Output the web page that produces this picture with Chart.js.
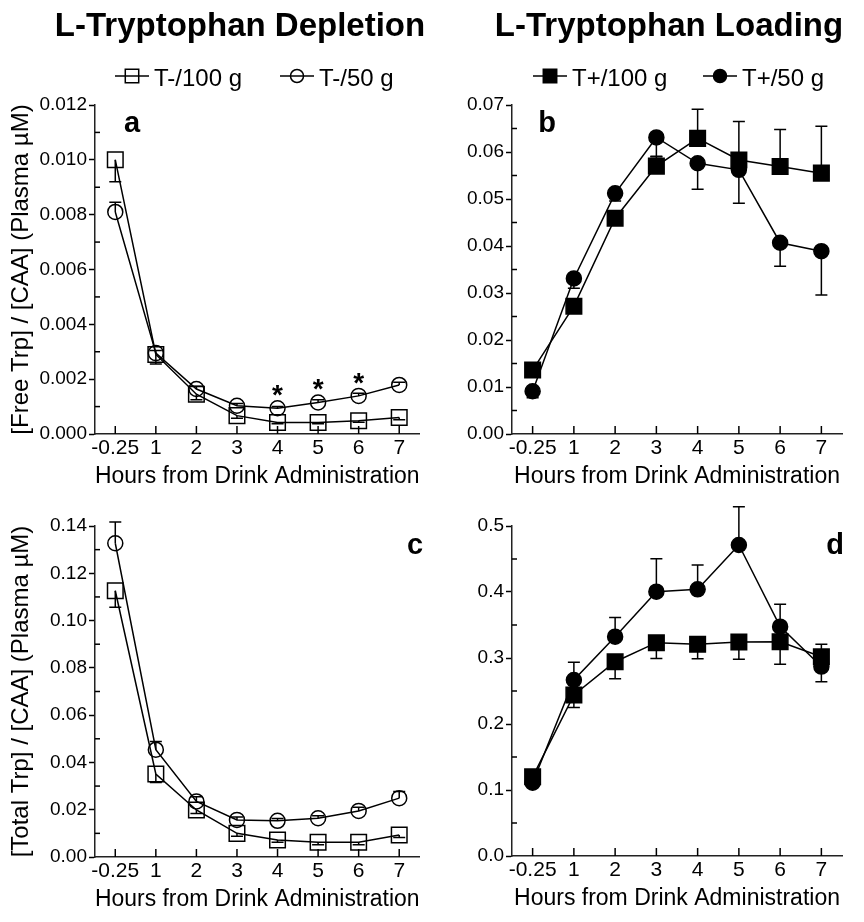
<!DOCTYPE html>
<html>
<head>
<meta charset="utf-8">
<script src="https://cdn.jsdelivr.net/npm/chart.js@4.4.0/dist/chart.umd.min.js"></script>
<style>
    body { margin: 0; background: #fff; }
    #tela { position: relative; width: 864px; height: 922px; }
    .painel { position: absolute; width: 432px; }
</style>
</head>
<body>
<div id="tela">
    <div class="painel" style="left:0;top:0;height:490px"><canvas id="graficoA"></canvas></div>
    <div class="painel" style="left:432px;top:0;height:490px"><canvas id="graficoB"></canvas></div>
    <div class="painel" style="left:0;top:490px;height:432px"><canvas id="graficoC"></canvas></div>
    <div class="painel" style="left:432px;top:490px;height:432px"><canvas id="graficoD"></canvas></div>
</div>
<script>
const categorias = ['-0.25', '1', '2', '3', '4', '5', '6', '7']

// a - Trp livre, deplecao
const livreDep100 = [0.0100, 0.0029, 0.00145, 0.00067, 0.00042, 0.00042, 0.00048, 0.0006]
const erroLivreDep100 = [0.0008, 0.00035, 0.0002, 0.0001, 0.00005, 0.00005, 0.00005, 0.00008]
const livreDep50 = [0.0081, 0.00295, 0.00164, 0.00103, 0.00094, 0.00115, 0.00139, 0.00179]
const erroLivreDep50 = [0.00035, 0.0001, 0.0001, 0.00008, 0.00006, 0.0001, 0.0001, 0.0001]
const asteriscosA = ['4', '5', '6']

// b - Trp livre, carga
const livreCarga100 = [0.0136, 0.0272, 0.0459, 0.0570, 0.0629, 0.0583, 0.0569, 0.0555]
const erroLivreCarga100 = [0.001, 0.001, 0.0015, 0.002, 0.0062, 0.0082, 0.0079, 0.0100]
const livreCarga50 = [0.0091, 0.0331, 0.0512, 0.0631, 0.0576, 0.0562, 0.0407, 0.0389]
const erroLivreCarga50 = [0.0014, 0.0021, 0.0016, 0.004, 0.0055, 0.0071, 0.005, 0.0093]

// c - Trp total, deplecao
const totalDep100 = [0.1126, 0.0351, 0.0199, 0.0100, 0.0072, 0.0062, 0.0062, 0.0093]
const erroTotalDep100 = [0.007, 0.0036, 0.0015, 0.0012, 0.001, 0.001, 0.001, 0.001]
const totalDep50 = [0.1327, 0.0454, 0.0235, 0.0157, 0.0153, 0.0164, 0.0195, 0.0249]
const erroTotalDep50 = [0.009, 0.0035, 0.002, 0.0012, 0.001, 0.001, 0.0015, 0.0028]

// d - Trp total, carga
const totalCarga100 = [0.120, 0.244, 0.2944, 0.3232, 0.3207, 0.3242, 0.3247, 0.302]
const erroTotalCarga100 = [0.004, 0.019, 0.026, 0.024, 0.022, 0.026, 0.034, 0.038]
const totalCarga50 = [0.111, 0.2667, 0.3323, 0.4005, 0.404, 0.4712, 0.3475, 0.287]
const erroTotalCarga50 = [0.003, 0.027, 0.029, 0.05, 0.037, 0.058, 0.034, 0.034]

const tituloEixoX = 'Hours from Drink Administration'
const fonte = "'Liberation Sans', Arial, sans-serif"

function desenharMarcador(ctx, estilo, x, y, r, cheio) {
    ctx.beginPath()
    if (estilo === 'rect') {
        const s = r * Math.SQRT1_2
        ctx.rect(x - s, y - s, 2 * s, 2 * s)
    } else {
        ctx.arc(x, y, r, 0, Math.PI * 2)
    }
    if (cheio) { ctx.fillStyle = '#000'; ctx.fill() }
    ctx.strokeStyle = '#000'
    ctx.lineWidth = 1.5
    ctx.stroke()
}

const pluginExtras = {
    id: 'extras',
    beforeDatasetsDraw(chart) {
        // barras de erro (só para um lado)
        const ctx = chart.ctx
        const eixoY = chart.scales.y
        chart.data.datasets.forEach((ds, i) => {
            const meta = chart.getDatasetMeta(i)
            ctx.save()
            ctx.strokeStyle = '#000'
            ctx.lineWidth = 1.5
            ds.data.forEach((v, j) => {
                const px = meta.data[j].x
                const y1 = eixoY.getPixelForValue(v)
                const y2 = eixoY.getPixelForValue(v + ds.sentidoErro * ds.erros[j])
                ctx.beginPath()
                ctx.moveTo(px, y1)
                ctx.lineTo(px, y2)
                ctx.moveTo(px - 6, y2)
                ctx.lineTo(px + 6, y2)
                ctx.stroke()
            })
            ctx.restore()
        })
    },
    afterDraw(chart) {
        const op = chart.options.plugins.extras
        const ctx = chart.ctx
        const area = chart.chartArea
        const eixoX = chart.scales.x
        const eixoY = chart.scales.y
        ctx.save()
        ctx.strokeStyle = '#000'
        ctx.lineWidth = 1.5

        // ticks do eixo x para dentro
        categorias.forEach((c, j) => {
            const px = eixoX.getPixelForValue(j)
            ctx.beginPath()
            ctx.moveTo(px, area.bottom)
            ctx.lineTo(px, area.bottom - 8)
            ctx.stroke()
        })

        // ticks menores do eixo y para dentro
        const n = Math.round(eixoY.max / op.passoMenor)
        for (let k = 1; k < n; k += 2) {
            const py = eixoY.getPixelForValue(k * op.passoMenor)
            ctx.beginPath()
            ctx.moveTo(area.left, py)
            ctx.lineTo(area.left + 5, py)
            ctx.stroke()
        }

        // letra do painel
        ctx.fillStyle = '#000'
        ctx.font = 'bold 29px ' + fonte
        ctx.textAlign = 'center'
        ctx.textBaseline = 'middle'
        ctx.fillText(op.letra, op.letraX, op.letraY)

        // asteriscos
        if (op.asteriscos) {
            const meta = chart.getDatasetMeta(op.asteriscos.serie)
            const valores = chart.data.datasets[op.asteriscos.serie].data
            ctx.font = 'bold 28px ' + fonte
            op.asteriscos.categorias.forEach((c) => {
                const j = categorias.indexOf(c)
                ctx.fillText('*', meta.data[j].x, eixoY.getPixelForValue(valores[j]) - 12)
            })
        }

        // titulo e legenda (so nos paineis de cima)
        if (op.titulo) {
            ctx.font = 'bold 33px ' + fonte
            ctx.textBaseline = 'alphabetic'
            ctx.fillText(op.titulo, op.tituloX, 36)

            ctx.font = '24px ' + fonte
            ctx.textAlign = 'left'
            op.legenda.forEach((pos, i) => {
                const ds = chart.data.datasets[i]
                ctx.beginPath()
                ctx.moveTo(pos - 17, 76)
                ctx.lineTo(pos + 17, 76)
                ctx.stroke()
                desenharMarcador(ctx, ds.pointStyle, pos, 76, ds.pointStyle === 'rect' ? 9.5 : 6.5, ds.backgroundColor === '#000')
                ctx.fillStyle = '#000'
                ctx.fillText(ds.label, pos + 22, 86)
            })
        }
        ctx.restore()
    }
}

function serie(rotulo, dados, erros, sentido, estilo, cheio) {
    return {
        label: rotulo,
        data: dados,
        erros: erros,
        sentidoErro: sentido,
        borderColor: '#000',
        borderWidth: 1.5,
        backgroundColor: cheio ? '#000' : 'rgba(0,0,0,0)',
        pointStyle: estilo,
        pointRadius: estilo === 'rect' ? 11 : 7.5,
        pointBorderWidth: 1.5,
        pointBorderColor: '#000',
        pointBackgroundColor: cheio ? '#000' : 'rgba(0,0,0,0)',
        tension: 0
    }
}

function criarGrafico(id, datasets, cfg) {
    return new Chart(document.getElementById(id), {
        type: 'line',
        data: { labels: categorias, datasets: datasets },
        plugins: [pluginExtras],
        options: {
            responsive: true,
            maintainAspectRatio: false,
            animation: false,
            layout: { padding: cfg.padding },
            plugins: {
                legend: { display: false },
                tooltip: { enabled: false },
                extras: cfg.extras
            },
            scales: {
                x: {
                    type: 'category',
                    offset: true,
                    grid: { display: false, drawTicks: false },
                    border: { color: '#222', width: 1.5 },
                    ticks: { color: '#000', font: { family: fonte, size: 21 }, padding: 2, maxRotation: 0, autoSkip: false },
                    title: { display: true, text: tituloEixoX, color: '#000', font: { family: fonte, size: 23 }, padding: 0 },
                    afterFit: (s) => { s.height = 56 }
                },
                y: {
                    min: 0,
                    max: cfg.max,
                    grid: { drawOnChartArea: false, tickLength: 6, tickColor: '#000', tickWidth: 1.5 },
                    border: { color: '#222', width: 1.5 },
                    ticks: {
                        stepSize: cfg.passo,
                        color: '#000',
                        padding: 2,
                        font: { family: fonte, size: 19 },
                        callback: (v) => Number(v).toFixed(cfg.casas)
                    },
                    title: {
                        display: !!cfg.tituloY,
                        text: cfg.tituloY,
                        color: '#000',
                        font: { family: fonte, size: 24 },
                        padding: { top: 7, bottom: 0 }
                    },
                    afterFit: (s) => { s.width = cfg.larguraY }
                }
            }
        }
    })
}

criarGrafico('graficoA', [
    serie('T-/100 g', livreDep100, erroLivreDep100, -1, 'rect', false),
    serie('T-/50 g', livreDep50, erroLivreDep50, 1, 'circle', false)
], {
    padding: { top: 105, left: 0, right: 9, bottom: 0 },
    max: 0.012, passo: 0.002, casas: 3, larguraY: 95,
    tituloY: '[Free Trp] / [CAA] (Plasma µM)',
    extras: {
        passoMenor: 0.001, letra: 'a', letraX: 132, letraY: 124,
        asteriscos: { serie: 1, categorias: asteriscosA },
        titulo: 'L-Tryptophan Depletion', tituloX: 240, legenda: [132, 297]
    }
})

criarGrafico('graficoB', [
    serie('T+/100 g', livreCarga100, erroLivreCarga100, 1, 'rect', true),
    serie('T+/50 g', livreCarga50, erroLivreCarga50, -1, 'circle', true)
], {
    padding: { top: 105, left: 0, right: 22, bottom: 0 },
    max: 0.07, passo: 0.01, casas: 2, larguraY: 80,
    extras: {
        passoMenor: 0.005, letra: 'b', letraX: 115, letraY: 124,
        titulo: 'L-Tryptophan Loading', tituloX: 237, legenda: [118, 288]
    }
})

criarGrafico('graficoC', [
    serie('T-/100 g', totalDep100, erroTotalDep100, -1, 'rect', false),
    serie('T-/50 g', totalDep50, erroTotalDep50, 1, 'circle', false)
], {
    padding: { top: 36, left: 0, right: 9, bottom: 9 },
    max: 0.14, passo: 0.02, casas: 2, larguraY: 95,
    tituloY: '[Total Trp] / [CAA] (Plasma µM)',
    extras: { passoMenor: 0.01, letra: 'c', letraX: 415, letraY: 56 }
})

criarGrafico('graficoD', [
    serie('T+/100 g', totalCarga100, erroTotalCarga100, -1, 'rect', true),
    serie('T+/50 g', totalCarga50, erroTotalCarga50, 1, 'circle', true)
], {
    padding: { top: 36, left: 0, right: 22, bottom: 10 },
    max: 0.5, passo: 0.1, casas: 1, larguraY: 80,
    extras: { passoMenor: 0.05, letra: 'd', letraX: 403, letraY: 56 }
})
</script>
</body>
</html>
